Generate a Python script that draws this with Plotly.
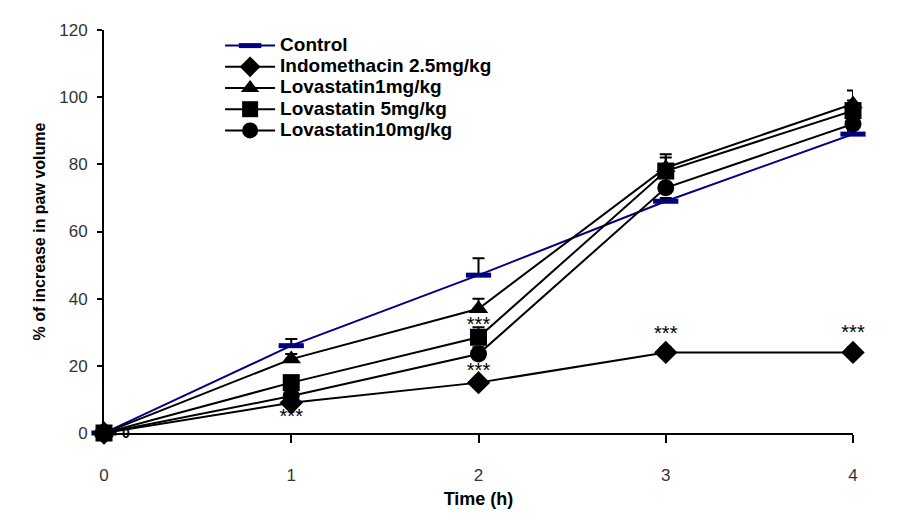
import plotly.graph_objects as go

time_h = [0, 1, 2, 3, 4]
control = [0, 26, 47, 69, 89]
control_err = [0, 2, 5, 1, 1]
indomethacin = [0, 9, 15, 24, 24]
indomethacin_err = [0, 1, 1, 1.5, 1.5]
lova1 = [0, 22, 37, 79, 98]
lova1_err = [0, 1.5, 3, 4, 4]
lova5 = [0, 15, 28.5, 78, 96]
lova5_err = [0, 2, 3, 4, 3]
lova10 = [0, 11, 23.5, 73, 92]
lova10_err = [0, 2, 2, 4, 3]

sig_x = [1, 2, 2, 3, 4]
sig_y = [4.4, 32, 18.1, 29.1, 29.4]
sig_text = ["***"] * 5

fig = go.Figure()

def err(a):
    return dict(type="data", array=a, arrayminus=[0]*len(a), symmetric=False,
                color="black", thickness=2, width=6)

def lbl(s):
    return "<span style='font-size:19px'>" + s + "</span>"

fig.add_trace(go.Scatter(x=time_h, y=control, name=lbl("Control"), mode="lines+markers",
    line=dict(color="#000080", width=2),
    marker=dict(symbol="line-ew", size=18, line=dict(color="#000080", width=5)),
    error_y=err(control_err), cliponaxis=False))
fig.add_trace(go.Scatter(x=time_h, y=indomethacin, name=lbl("Indomethacin 2.5mg/kg"), mode="lines+markers",
    line=dict(color="black", width=2),
    marker=dict(symbol="diamond", size=18, color="black"),
    error_y=err(indomethacin_err), cliponaxis=False))
fig.add_trace(go.Scatter(x=time_h, y=lova1, name=lbl("Lovastatin1mg/kg"), mode="lines+markers",
    line=dict(color="black", width=2),
    marker=dict(symbol="triangle-up", size=17, color="black"),
    error_y=err(lova1_err), cliponaxis=False))
fig.add_trace(go.Scatter(x=time_h, y=lova5, name=lbl("Lovastatin 5mg/kg"), mode="lines+markers",
    line=dict(color="black", width=2),
    marker=dict(symbol="square", size=17, color="black"),
    error_y=err(lova5_err), cliponaxis=False))
fig.add_trace(go.Scatter(x=time_h, y=lova10, name=lbl("Lovastatin10mg/kg"), mode="lines+markers",
    line=dict(color="black", width=2),
    marker=dict(symbol="circle", size=17, color="black"),
    error_y=err(lova10_err), cliponaxis=False))

fig.add_trace(go.Scatter(x=sig_x, y=sig_y, text=sig_text, mode="text", showlegend=False,
    textfont=dict(family="Liberation Sans, Arial", size=20, color="black"), cliponaxis=False))

fig.add_annotation(x=0.12, y=0, text="<b>0</b>", showarrow=False,
    font=dict(family="Liberation Sans, Arial", size=14, color="black"))

tickfont = dict(family="Liberation Sans Narrow, Arial Narrow, Liberation Sans", size=17, color="#333")
fig.update_xaxes(range=[0, 4], tickvals=[0, 1, 2, 3, 4], showline=True, linecolor="black", linewidth=2,
    ticks="outside", ticklen=8, tickwidth=2, tickcolor="black", ticklabelstandoff=18,
    showgrid=False, zeroline=False, tickfont=tickfont,
    title=dict(text="Time (h)", font=dict(family="Liberation Sans, Arial", size=18, color="black", weight="bold"), standoff=8))
fig.update_yaxes(range=[0, 120], tickvals=[0, 20, 40, 60, 80, 100, 120], showline=True, linecolor="black", linewidth=2,
    ticks="outside", ticklen=5, tickwidth=2, tickcolor="black", ticklabelstandoff=6,
    showgrid=False, zeroline=False, tickfont=tickfont,
    title=dict(text="% of increase in paw volume", font=dict(family="Liberation Sans, Arial", size=16, color="black", weight="bold"), standoff=10))

fig.update_layout(width=898, height=529, margin=dict(l=104, r=45, t=30, b=96),
    plot_bgcolor="white", paper_bgcolor="white",
    legend=dict(x=0.155, y=1.0, xanchor="left", yanchor="top", bgcolor="rgba(0,0,0,0)",
                font=dict(family="Liberation Sans, Arial", size=14, color="black", weight="bold"),
                itemwidth=50, tracegroupgap=0, traceorder="normal"))

fig.write_html("out.html")
